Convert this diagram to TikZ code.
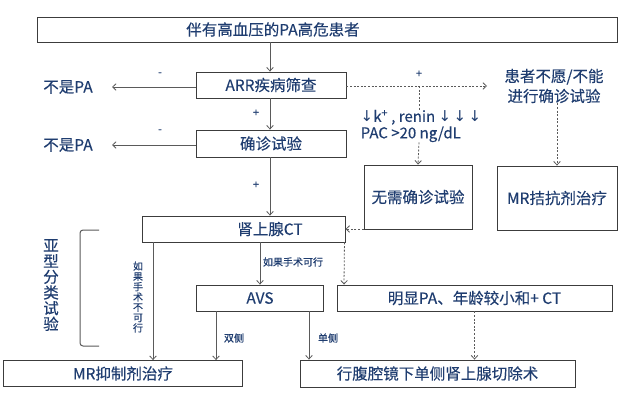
\documentclass[tikz,border=0pt]{standalone}
\usepackage{fontspec}
\setmainfont{Noto Sans CJK SC}[FakeBold=0.25]
\newfontfamily\symfont{DejaVu Sans}
\usetikzlibrary{arrows.meta}
\definecolor{txt}{HTML}{1F3D70}
\definecolor{ln}{HTML}{5A5A5A}
\definecolor{bx}{HTML}{3C3C3C}
\newcommand{\dnar}{{\symfont ↓}}
\begin{document}
\begin{tikzpicture}[x=1pt,y=-1pt,
  box/.style={draw=bx, line width=0.9pt, inner sep=0pt, text=txt, font=\fontsize{15.5}{16}\selectfont},
  lbl/.style={text=txt, inner sep=0pt, font=\fontsize{15.5}{16}\selectfont},
  small/.style={text=txt, inner sep=0pt, font=\fontsize{10}{10.3}\selectfont},
  sign/.style={text=txt, inner sep=0pt, font=\fontsize{11}{11}\selectfont},
  conn/.style={draw=ln, line width=0.8pt, -{Straight Barb[length=3.5pt,width=6.5pt]}},
  dconn/.style={conn, dash pattern=on 2pt off 1.6pt},
  dline/.style={draw=ln, line width=0.8pt, dash pattern=on 2pt off 1.6pt},
]
\fill[white] (0,0) rectangle (620,407);
\useasboundingbox (0,0) rectangle (620,407);

% boxes
\node[box, minimum width=580pt, minimum height=25pt] (top) at (327,29.5) {};
\node[lbl] (toptxt) at (273,29.5) {伴有高血压的PA高危患者};
\node[box, minimum width=150pt, minimum height=26pt] (arr) at (271,85) {ARR疾病筛查};
\node[box, minimum width=150pt, minimum height=27pt] (conf) at (271,143.5) {确诊试验};
\node[box, minimum width=203pt, minimum height=26pt] (ct) at (243.5,229) {};
\node[lbl] (cttxt) at (270,229) {肾上腺CT};
\node[box, minimum width=108pt, minimum height=64pt] (noneed) at (418,197) {无需确诊试验};
\node[box, minimum width=120pt, minimum height=64pt] (mrant) at (557,198) {MR拮抗剂治疗};
\node[lbl, align=center, font=\fontsize{15.5}{20}\selectfont] (refuse) at (554,86) {患者不愿/不能\\进行确诊试验};
\node[box, minimum width=127pt, minimum height=26pt] (avs) at (260,298) {AVS};
\node[box, minimum width=275pt, minimum height=26pt] (obv) at (474.5,298) {明显PA、年龄较小和+ CT};
\node[box, minimum width=239pt, minimum height=26pt] (mrinh) at (123,373.5) {MR抑制剂治疗};
\node[box, minimum width=275pt, minimum height=27pt] (surg) at (437.5,373.5) {行腹腔镜下单侧肾上腺切除术};

% side labels
\node[lbl] (notpa1) at (68,87) {不是PA};
\node[lbl] (notpa2) at (68,145) {不是PA};
\node[lbl, align=center, font=\fontsize{15.5}{15.7}\selectfont] (subtype) at (51,285) {亚\\型\\分\\类\\试\\验};
\node[lbl, align=left, font=\fontsize{15}{16.5}\selectfont] (crit) at (421,126) {\dnar k\textsuperscript{+} , renin \dnar\,\dnar\,\dnar\\PAC >20 ng/dL};

% signs
\node[sign] (m1) at (160,74) {-};
\node[sign] (m2) at (160,131) {-};
\node[sign] (p1) at (256,113) {+};
\node[sign] (p2) at (256,185) {+};
\node[sign] (p3) at (419,74) {+};

% small labels
\node[small] (feas) at (293,262) {如果手术可行};
\node[small, align=center] (infeas) at (138,297) {如\\果\\手\\术\\不\\可\\行};
\node[small] (bilat) at (234,338) {双侧};
\node[small] (unilat) at (328,338) {单侧};

% bracket
\draw[draw=ln, line width=1pt, rounded corners=3pt] (99,230) -- (80,230) -- (80,346) -- (99,346);

% solid connectors
\draw[conn] (top.south -| arr) ++(-1,0) -- ([xshift=-1pt]arr.north);
\draw[conn] ([xshift=-1pt]arr.south) -- ([xshift=-1pt]conf.north);
\draw[conn] ([xshift=-1pt]conf.south) -- (ct.north -| 270,0);
\draw[conn] (arr.west |- 0,87) -- (112,87);
\draw[conn] (conf.west |- 0,145) -- (112,145);
\draw[conn] (ct.south -| 153,0) -- (mrinh.north -| 153,0);
\draw[conn] (ct.south -| avs) -- (avs.north);
\draw[conn] (avs.south -| 216,0) -- (mrinh.north -| 216,0);
\draw[conn] (avs.south -| 309,0) -- (surg.north -| 309,0);

% dashed connectors
\coordinate (split) at (419,86);
\draw[dconn] (arr.east |- split) -- (487,86);
\draw[dline] (split) -- (crit.north -| split);
\draw[dconn] (crit.south -| split) -- (noneed.north);
\draw[dconn] (refuse.south -| mrant) -- (mrant.north);
\draw[dconn] (ct.east -| noneed.west) -- (ct.east);
\draw[dconn] (ct.south east) ++(-1,0) -- (obv.north -| 344,0);
\draw[dconn] (obv.south) -- (surg.north -| obv);
\end{tikzpicture}
\end{document}
